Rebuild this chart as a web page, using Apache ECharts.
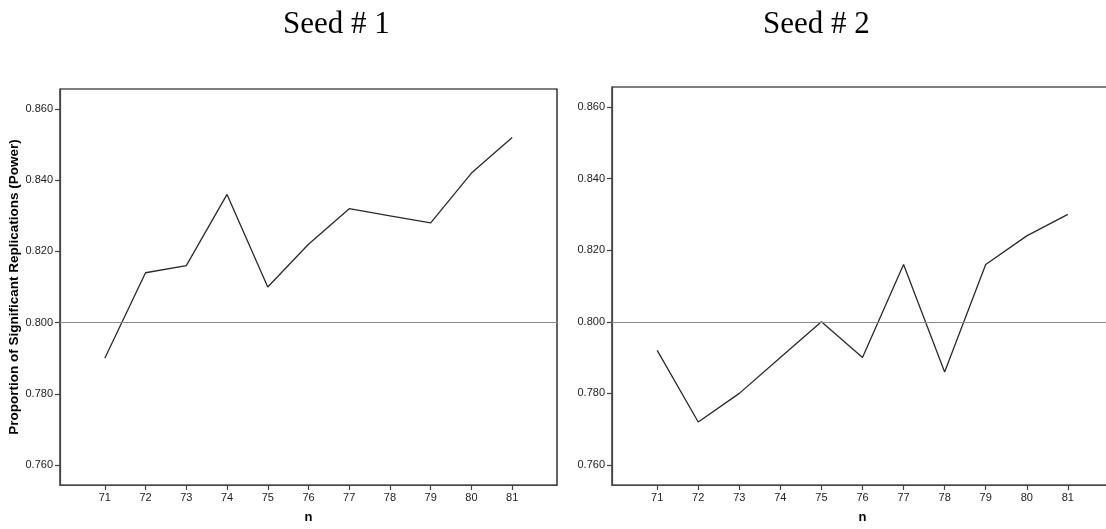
<!DOCTYPE html>
<html>
<head>
<meta charset="utf-8">
<script src="https://cdn.jsdelivr.net/npm/echarts@6/dist/echarts.min.js"></script>
<style>html,body{margin:0;padding:0;background:#fff;overflow:hidden;width:1106px;height:529px}#c{width:1120px;height:529px}</style>
</head>
<body>
<div id="c"></div>
<script>
var nValues = [71, 72, 73, 74, 75, 76, 77, 78, 79, 80, 81];
var seed1 = [0.790, 0.814, 0.816, 0.836, 0.810, 0.822, 0.832, 0.830, 0.828, 0.842, 0.852];
var seed2 = [0.792, 0.772, 0.780, 0.790, 0.800, 0.790, 0.816, 0.786, 0.816, 0.824, 0.830];
var yTicks = [0.760, 0.780, 0.800, 0.820, 0.840, 0.860];
var titles = ['Seed # 1', 'Seed # 2'];
var refValue = 0.800;

function pairs(ys) { return nValues.map(function (x, i) { return [x, ys[i]]; }); }

var labelStyle = { color: '#222', fontFamily: 'Liberation Sans, Arial', fontSize: 11 };

function xAxis(idx) {
  return {
    type: 'value', gridIndex: idx, min: 69.9, max: 82.1,
    name: 'n', nameLocation: 'middle', nameGap: 26,
    nameTextStyle: { fontFamily: 'Liberation Sans, Arial', fontWeight: 'bold', fontSize: 13, color: '#000' },
    axisLine: { show: true, lineStyle: { color: '#444', width: 1.2 } },
    axisTick: { show: true, inside: false, customValues: nValues, length: 5, lineStyle: { color: '#444', width: 1.2 } },
    axisLabel: Object.assign({ customValues: nValues, margin: 7 }, labelStyle),
    splitLine: { show: false }
  };
}
function yAxis(idx, withName) {
  return {
    type: 'value', gridIndex: idx, min: 0.7544, max: 0.8656,
    name: withName ? 'Proportion of Significant Replications (Power)' : '',
    nameLocation: 'middle', nameGap: 35,
    nameTextStyle: { fontFamily: 'Liberation Sans, Arial', fontWeight: 'bold', fontSize: 13.5, color: '#000' },
    axisLine: { show: true, lineStyle: { color: '#444', width: 1.2 } },
    axisTick: { show: true, inside: false, customValues: yTicks, length: 5, lineStyle: { color: '#444', width: 1.2 } },
    axisLabel: Object.assign({ customValues: yTicks, margin: 7, formatter: function (v) { return v.toFixed(3); } }, labelStyle),
    splitLine: { show: false }
  };
}
function series(idx, ys) {
  return {
    type: 'line', xAxisIndex: idx, yAxisIndex: idx, data: pairs(ys),
    showSymbol: false, symbol: 'none', silent: true,
    lineStyle: { color: '#2a2a2a', width: 1.3 },
    markLine: {
      silent: true, symbol: 'none', label: { show: false },
      lineStyle: { color: '#8a8a8a', width: 1, type: 'solid' },
      data: [{ yAxis: refValue }]
    }
  };
}

var chart = echarts.init(document.getElementById('c'), null, { renderer: 'canvas' });
chart.setOption({
  animation: false,
  backgroundColor: '#fff',
  title: [
    { text: titles[0], left: 278, top: 4, textStyle: { fontFamily: 'Liberation Serif, Times New Roman', fontSize: 31, fontWeight: 'normal', color: '#000' } },
    { text: titles[1], left: 758, top: 4, textStyle: { fontFamily: 'Liberation Serif, Times New Roman', fontSize: 31, fontWeight: 'normal', color: '#000' } }
  ],
  grid: [
    { left: 60, top: 89, width: 497, height: 397, show: true, borderColor: '#000', borderWidth: 1.2, containLabel: false },
    { left: 612, top: 87, width: 501, height: 399, show: true, borderColor: '#000', borderWidth: 1.2, containLabel: false }
  ],
  xAxis: [xAxis(0), xAxis(1)],
  yAxis: [yAxis(0, true), yAxis(1, false)],
  series: [series(0, seed1), series(1, seed2)]
});
</script>
</body>
</html>
